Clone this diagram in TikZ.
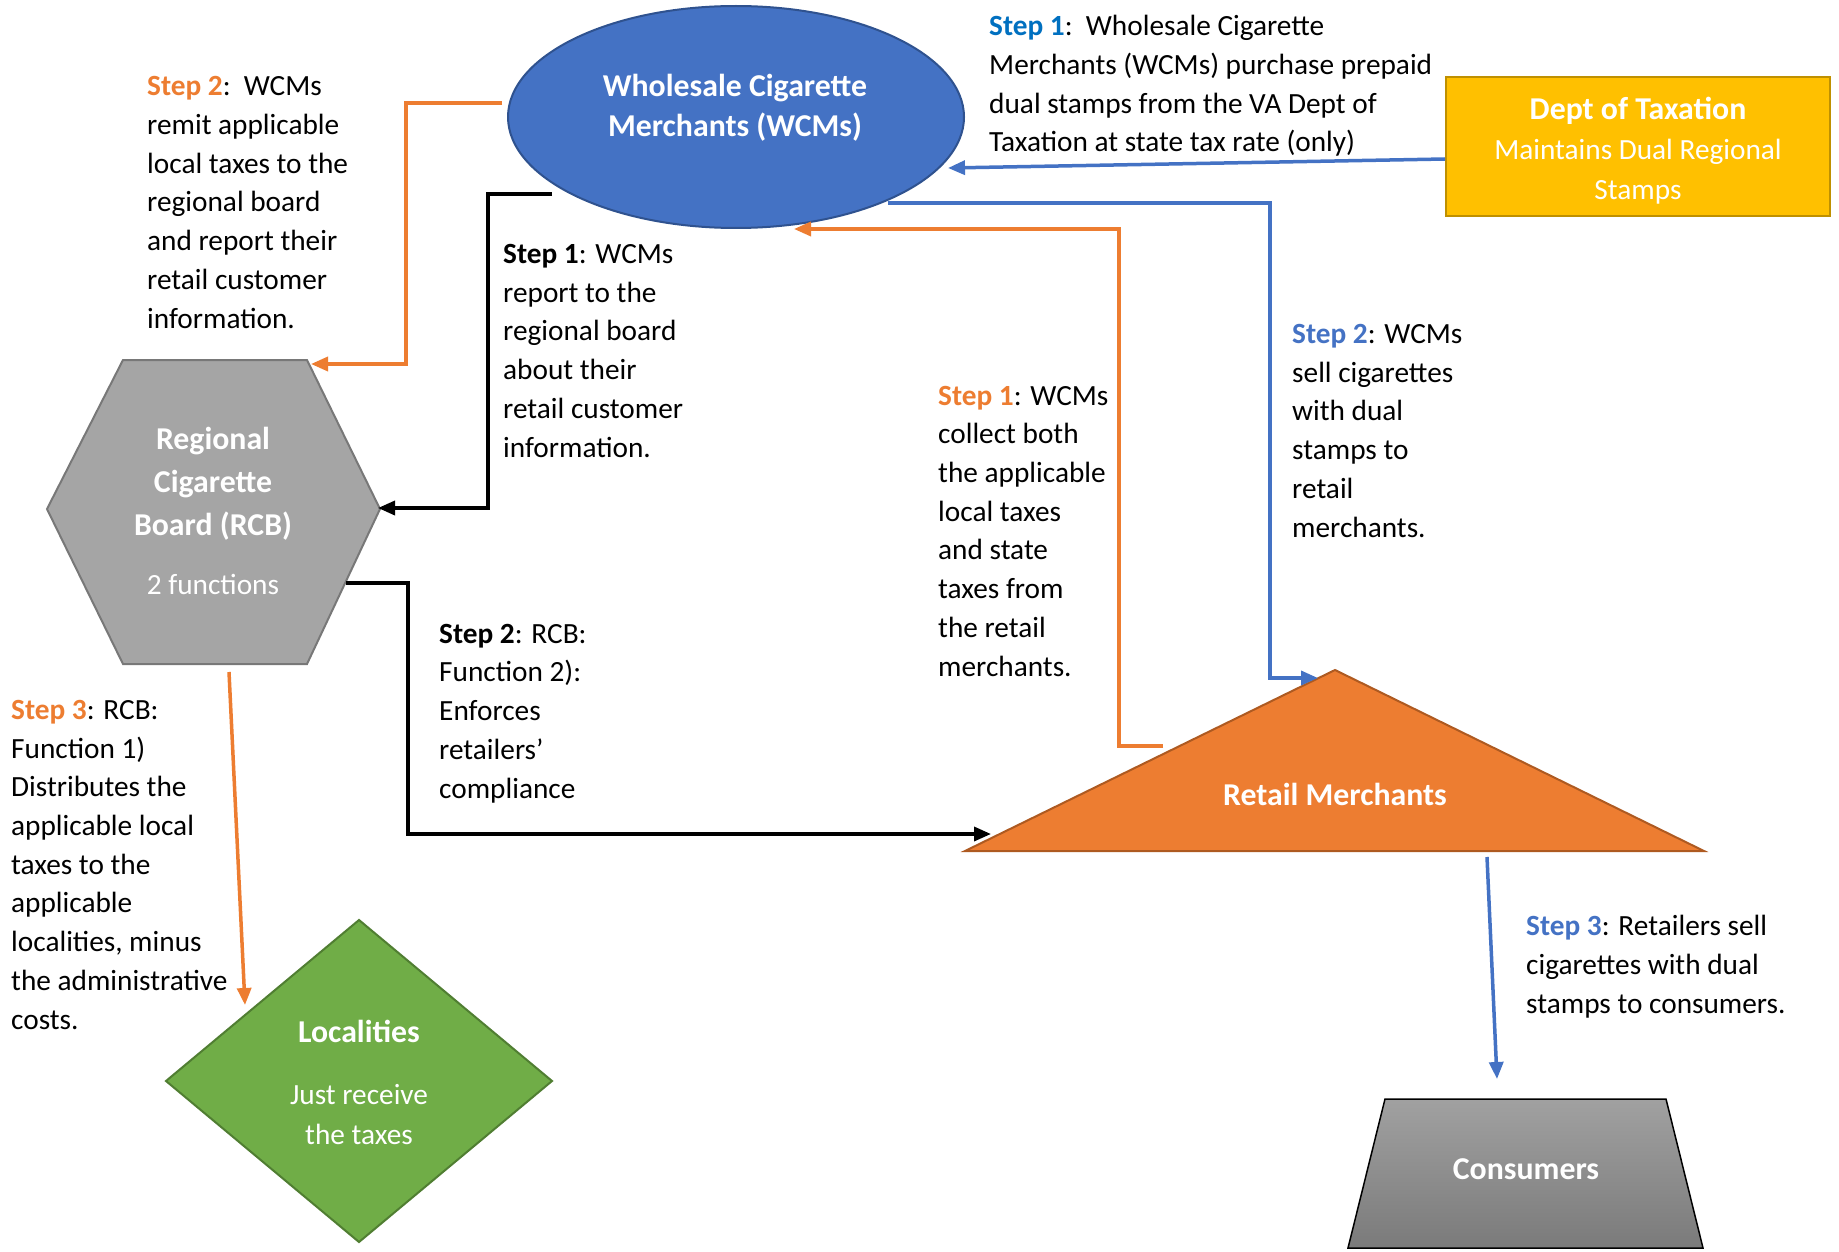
\documentclass[tikz,border=0pt]{standalone}
\usepackage{fontspec}
\setmainfont{Carlito}
\usetikzlibrary{arrows.meta,shapes.geometric}
\definecolor{wblue}{HTML}{4472C4}
\definecolor{wblueD}{HTML}{2F528F}
\definecolor{sblue}{HTML}{0070C0}
\definecolor{worange}{HTML}{ED7D31}
\definecolor{worangeD}{HTML}{AE5A21}
\definecolor{wgold}{HTML}{FFC000}
\definecolor{wgoldD}{HTML}{BF9000}
\definecolor{wgray}{HTML}{A5A5A5}
\definecolor{wgrayD}{HTML}{787878}
\definecolor{wgreen}{HTML}{70AD47}
\definecolor{wgreenD}{HTML}{507E32}
\tikzset{
 body/.style={anchor=base west, align=left, inner sep=0pt, font=\fontsize{29.3}{38.7}\selectfont},
 ttl/.style={text=white, align=center, inner sep=0pt, font=\fontsize{29.3}{40}\selectfont},
 conn/.style={line width=3.5pt, -{Triangle[length=17pt,width=14pt]}},
}
\begin{document}
\begin{tikzpicture}[x=1pt,y=-1pt]
\useasboundingbox[fill=white] (0,0) rectangle (1839,1252);
% shapes
\node[ellipse, draw=wblueD, fill=wblue, line width=2pt, minimum width=456pt, minimum height=222pt, inner sep=0pt] (wcm) at (736,117) {};
\node[ttl] (wcmt) at (735,108) {\fontsize{31.8}{41}\selectfont\bfseries Wholesale Cigarette\\ \fontsize{31.8}{41}\selectfont\bfseries Merchants (WCMs)};
\node[rectangle, draw=wgoldD, fill=wgold, line width=2pt, minimum width=384pt, minimum height=139pt] (dept) at (1638,146.5) {};
\node[ttl] (deptt) at (1638,151) {\fontsize{31.8}{40}\selectfont\bfseries Dept of Taxation\\Maintains Dual Regional\\Stamps};
\draw[draw=wgrayD, fill=wgray, line width=2pt] (123,360) -- (307,360) -- (380,509) -- (307,664) -- (123,664) -- (47,509) -- cycle;
\node[ttl] (rcb) at (213,511) {\fontsize{31.8}{42}\selectfont\bfseries Regional\\[3pt] \fontsize{31.8}{42}\selectfont\bfseries Cigarette\\[3pt] \fontsize{31.8}{42}\selectfont\bfseries Board (RCB)\\[19pt]2 functions};
\draw[draw=worangeD, fill=worange, line width=2pt] (1335,670) -- (1704,851) -- (965,851) -- cycle;
\node[ttl] (retail) at (1335,794) {\fontsize{31.8}{41}\selectfont\bfseries Retail Merchants};
\draw[draw=wgreenD, fill=wgreen, line width=2pt] (359,920) -- (552,1081) -- (359,1242) -- (166,1081) -- cycle;
\node[ttl] (loc) at (359,1082) {\fontsize{31.8}{41}\selectfont\bfseries Localities\\[22pt]Just receive\\the taxes};
\draw[draw=black, line width=1.5pt, top color=black!37, bottom color=black!52] (1385,1099) -- (1666,1099) -- (1703,1248) -- (1348,1248) -- cycle;
\node[ttl] (cons) at (1526,1169) {\fontsize{31.8}{41}\selectfont\bfseries Consumers};
% texts (anchored at the baseline of the last line)
\node[body] (s1a) at (989,152) {\textcolor{sblue}{\textbf{Step 1}}:\ \ Wholesale Cigarette\\Merchants (WCMs) purchase prepaid\\dual stamps from the VA Dept of\\Taxation at state tax rate (only)};
\node[body] (s2a) at (147,328) {\textcolor{worange}{\textbf{Step 2}}:\ \ WCMs\\remit applicable\\local taxes to the\\regional board\\and report their\\retail customer\\information.};
\node[body] (s1b) at (503,457) {\textbf{Step 1}: WCMs\\report to the\\regional board\\about their\\retail customer\\information.};
\node[body] (s1c) at (938,676) {\textcolor{worange}{\textbf{Step 1}}: WCMs\\collect both\\the applicable\\local taxes\\and state\\taxes from\\the retail\\merchants.};
\node[body] (s2b) at (1292,537) {\textcolor{wblue}{\textbf{Step 2}}: WCMs\\sell cigarettes\\with dual\\stamps to\\retail\\merchants.};
\node[body] (s2c) at (439,798) {\textbf{Step 2}: RCB:\\Function 2):\\Enforces\\retailers’\\compliance};
\node[body] (s3a) at (11,1029) {\textcolor{worange}{\textbf{Step 3}}: RCB:\\Function 1)\\Distributes the\\applicable local\\taxes to the\\applicable\\localities, minus\\the administrative\\costs.};
\node[body] (s3b) at (1526,1013) {\textcolor{wblue}{\textbf{Step 3}}: Retailers sell\\cigarettes with dual\\stamps to consumers.};
% connector end points
\coordinate (dA) at (1445,159); \coordinate (wA) at (948,168);
\coordinate (wB) at (888,203); \coordinate (rB) at (1318,678);
\coordinate (rC) at (1163,746); \coordinate (wC) at (794,229);
\coordinate (wD) at (502,103); \coordinate (hD) at (311,364);
\coordinate (wE) at (552,194); \coordinate (hE) at (378,508);
\coordinate (hF) at (346,583); \coordinate (rF) at (991,834);
\coordinate (hG) at (229,672); \coordinate (lG) at (245,1005);
\coordinate (rH) at (1487,857); \coordinate (cH) at (1497,1079);
% connectors
\draw[conn, wblue] (dA) -- (wA);
\draw[conn, wblue] (wB) -| ([xshift=-48pt]rB) -- (rB);
\draw[conn, worange] (rC) -| ([xshift=325pt]wC) -- (wC);
\draw[conn, worange] (wD) -| ([xshift=95pt]hD) -- (hD);
\draw[conn, black] (wE) -| ([xshift=110pt]hE) -- (hE);
\draw[conn, black] (hF) -| ([xshift=-583pt]rF) -- (rF);
\draw[conn, worange] (hG) -- (lG);
\draw[conn, wblue] (rH) -- (cH);
\end{tikzpicture}
\end{document}
